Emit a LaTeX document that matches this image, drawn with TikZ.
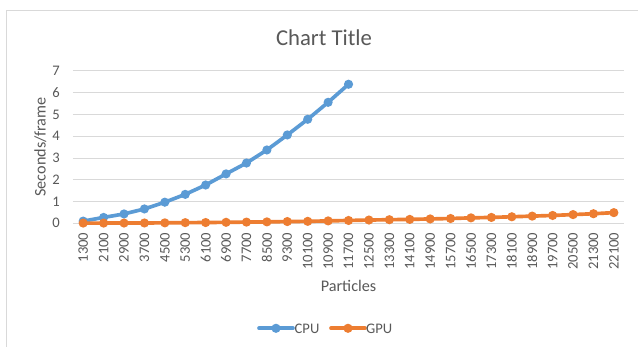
\documentclass[tikz,border=0pt]{standalone}
\usepackage{fontspec}
\setmainfont{Carlito}
\definecolor{txt}{HTML}{595959}
\definecolor{gridc}{HTML}{D9D9D9}
\definecolor{cpuc}{HTML}{5B9BD5}
\definecolor{gpuc}{HTML}{ED7D31}
\begin{document}
\begin{tikzpicture}[x=1pt,y=-1pt,
  ticklab/.style={text=txt, font=\fontsize{14.6}{16}\selectfont, inner sep=0pt},
  axtitle/.style={text=txt, font=\fontsize{16.2}{18}\selectfont, inner sep=0pt},
  charttitle/.style={text=txt, font=\fontsize{22.7}{25}\selectfont, inner sep=0pt},
  series/.style={line width=3.66pt, line join=round, line cap=round},
  gridline/.style={draw=gridc, line width=1pt}]
\useasboundingbox (0,0) rectangle (638,347);
\clip (0,0) rectangle (638,347);
\fill[white] (0,0) rectangle (638,347);
% chart frame
\draw[gridc, line width=1pt] (6.5,360) -- (6.5,10.5) -- (660,10.5);
% title
\node[charttitle, anchor=base] (title) at (324,45.7) {Chart Title};
% axis titles
\node[axtitle, rotate=90, anchor=base] (ytitle) at (45.5,147) {Seconds/frame};
\node[axtitle, anchor=base] (xtitle) at (348.5,291.7) {Particles};
\begin{scope}[shift={(83.2,223.3)}, x=20.41pt, y=21.76pt]
  % gridlines and y labels
  \foreach \v in {0,...,7} {
    \draw[gridline] (-0.5,\v) -- (26.5,\v);
    \node[ticklab, anchor=east] (yl\v) at (-1.14,\v) {\v};
  }
  % x labels
  \foreach \lab [count=\i from 0] in {1300,2100,2900,3700,4500,5300,6100,6900,7700,8500,9300,10100,10900,11700,12500,13300,14100,14900,15700,16500,17300,18100,18900,19700,20500,21300,22100} {
    \node[ticklab, rotate=90, anchor=east] (xl\i) at (\i,-0.42) {\lab};
  }
  % CPU data
  \foreach \v [count=\i from 0] in {0.1,0.27,0.43,0.66,0.97,1.33,1.76,2.27,2.77,3.37,4.06,4.78,5.56,6.39} {
    \coordinate (c\i) at (\i,\v);
  }
  % GPU data
  \foreach \v [count=\i from 0] in {0.01,0.01,0.012,0.015,0.02,0.03,0.035,0.045,0.055,0.065,0.08,0.09,0.11,0.13,0.15,0.165,0.18,0.2,0.22,0.25,0.27,0.3,0.33,0.36,0.4,0.44,0.49} {
    \coordinate (g\i) at (\i,\v);
  }
  \draw[series, cpuc] (c0) foreach \i in {1,...,13} { -- (c\i) };
  \foreach \i in {0,...,13} { \fill[cpuc] (c\i) circle[radius=4.6pt]; }
  \draw[series, gpuc] (g0) foreach \i in {1,...,26} { -- (g\i) };
  \foreach \i in {0,...,26} { \fill[gpuc] (g\i) circle[radius=4.6pt]; }
\end{scope}
% legend
\coordinate (l1a) at (259,328.3); \coordinate (l1b) at (293,328.3); \coordinate (l1m) at (276,328.3);
\coordinate (l2a) at (331,328.3); \coordinate (l2b) at (365,328.3); \coordinate (l2m) at (348,328.3);
\draw[series, cpuc] (l1a) -- (l1b);
\fill[cpuc] (l1m) circle[radius=4.6pt];
\node[ticklab, anchor=base west] (lcpu) at (294.5,333.3) {CPU};
\draw[series, gpuc] (l2a) -- (l2b);
\fill[gpuc] (l2m) circle[radius=4.6pt];
\node[ticklab, anchor=base west] (lgpu) at (366,333.3) {GPU};
\end{tikzpicture}
\end{document}
